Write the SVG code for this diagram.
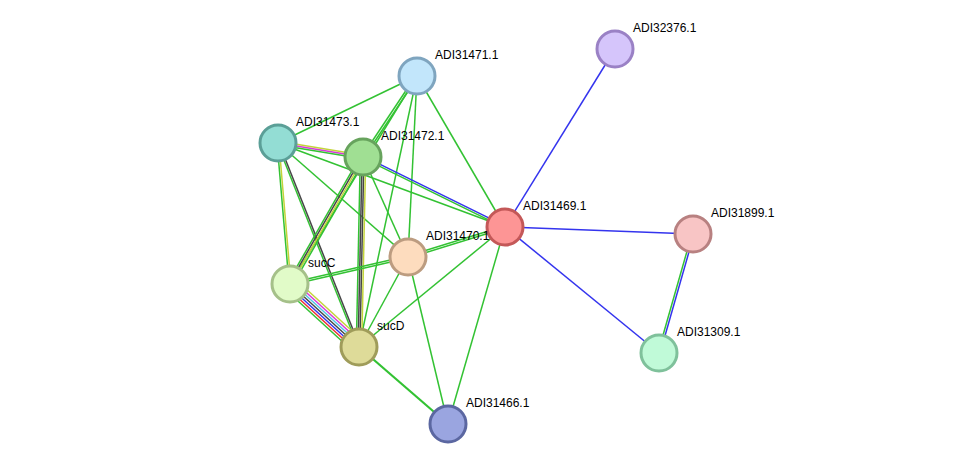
<svg xmlns="http://www.w3.org/2000/svg" width="975" height="470" viewBox="0 0 975 470">
<style>
line{stroke-width:1.5;fill:none}
.g{stroke:#33c233}.b{stroke:#3434ee}.y{stroke:#c3d43a}.m{stroke:#d63ad6}.c{stroke:#4fc6e6}.k{stroke:#474747}.r{stroke:#ee3030}
circle{stroke-width:3}
text{font-family:"Liberation Sans",Arial,sans-serif;font-size:12px;fill:#000}
</style>
<rect width="975" height="470" fill="#fff"/>
<g id="connectors">
<line class="b" x1="615" y1="49" x2="505" y2="227"/>
<line class="b" x1="505" y1="227" x2="693" y2="234"/>
<line class="b" x1="505" y1="227" x2="659" y2="353"/>
<line class="g" x1="692" y1="233.7" x2="658" y2="352.7"/>
<line class="b" x1="694" y1="234.3" x2="660" y2="353.3"/>
<line class="g" x1="417" y1="76" x2="278" y2="143"/>
<line class="g" x1="416" y1="75.5" x2="362" y2="156.5"/>
<line class="g" x1="418" y1="76.5" x2="364" y2="157.5"/>
<line class="g" x1="417" y1="76" x2="505" y2="227"/>
<line class="g" x1="417" y1="76" x2="408" y2="257"/>
<line class="g" x1="417" y1="76" x2="290" y2="284"/>
<line class="g" x1="417" y1="76" x2="359" y2="347"/>
<line class="y" x1="278.3" y1="141.2" x2="363.3" y2="155.2"/>
<line class="m" x1="278" y1="143" x2="363" y2="157"/>
<line class="g" x1="277.7" y1="144.8" x2="362.7" y2="158.8"/>
<line class="g" x1="278" y1="143" x2="505" y2="227"/>
<line class="g" x1="278" y1="143" x2="408" y2="257"/>
<line class="g" x1="277.1" y1="143.1" x2="289.1" y2="284.1"/>
<line class="y" x1="278.9" y1="142.9" x2="290.9" y2="283.9"/>
<line class="g" x1="277.2" y1="143.3" x2="358.2" y2="347.3"/>
<line class="k" x1="278.8" y1="142.7" x2="359.8" y2="346.7"/>
<line class="b" x1="363.4" y1="156.2" x2="505.4" y2="226.2"/>
<line class="g" x1="362.6" y1="157.8" x2="504.6" y2="227.8"/>
<line class="g" x1="363" y1="157" x2="408" y2="257"/>
<line class="g" x1="360.7" y1="155.7" x2="287.7" y2="282.7"/>
<line class="k" x1="362.2" y1="156.6" x2="289.2" y2="283.6"/>
<line class="y" x1="363.8" y1="157.5" x2="290.8" y2="284.5"/>
<line class="g" x1="365.3" y1="158.4" x2="292.3" y2="285.4"/>
<line class="g" x1="360.3" y1="157" x2="356.3" y2="347"/>
<line class="k" x1="362.1" y1="157" x2="358.1" y2="347"/>
<line class="k" x1="363.9" y1="157" x2="359.9" y2="347"/>
<line class="y" x1="365.7" y1="157" x2="361.7" y2="347"/>
<line class="g" x1="408.3" y1="258" x2="505.3" y2="228"/>
<line class="g" x1="407.7" y1="256" x2="504.7" y2="226"/>
<line class="g" x1="407.8" y1="256" x2="289.8" y2="283"/>
<line class="g" x1="408.2" y1="258" x2="290.2" y2="285"/>
<line class="g" x1="408" y1="257" x2="359" y2="347"/>
<line class="g" x1="408" y1="257" x2="448" y2="424"/>
<line class="g" x1="505" y1="227" x2="359" y2="347"/>
<line class="g" x1="505" y1="227" x2="448" y2="424"/>
<line class="y" x1="294.9" y1="278.7" x2="363.9" y2="341.7"/>
<line class="m" x1="293.2" y1="280.5" x2="362.2" y2="343.5"/>
<line class="c" x1="291.6" y1="282.2" x2="360.6" y2="345.2"/>
<line class="k" x1="290" y1="284" x2="359" y2="347"/>
<line class="b" x1="288.4" y1="285.8" x2="357.4" y2="348.8"/>
<line class="r" x1="286.8" y1="287.5" x2="355.8" y2="350.5"/>
<line class="g" x1="285.1" y1="289.3" x2="354.1" y2="352.3"/>
<line class="g" x1="359" y1="347" x2="448" y2="424" style="stroke-width:2.2"/>
</g>
<g id="ADI31471.1"><circle cx="417" cy="76" r="18" fill="#c2e6fb" stroke="#7fa5bf"/><text x="435" y="59">ADI31471.1</text></g>
<g id="ADI32376.1"><circle cx="615" cy="49" r="18" fill="#d5c5fb" stroke="#9a81c5"/><text x="633" y="32">ADI32376.1</text></g>
<g id="ADI31473.1"><circle cx="278" cy="143" r="18" fill="#93ddd4" stroke="#5b9f97"/><text x="296" y="126">ADI31473.1</text></g>
<g id="ADI31472.1"><circle cx="363" cy="157" r="18" fill="#a0df93" stroke="#67a35d"/><text x="381" y="140">ADI31472.1</text></g>
<g id="ADI31469.1"><circle cx="505" cy="227" r="18" fill="#fd9595" stroke="#c45858"/><text x="523" y="210">ADI31469.1</text></g>
<g id="ADI31899.1"><circle cx="693" cy="234" r="18" fill="#f8c5c5" stroke="#b88181"/><text x="711" y="217">ADI31899.1</text></g>
<g id="ADI31470.1"><circle cx="408" cy="257" r="18" fill="#fddcbe" stroke="#bc9c80"/><text x="426" y="240">ADI31470.1</text></g>
<g id="sucC"><circle cx="290" cy="284" r="18" fill="#e1fbc8" stroke="#a5c089"/><text x="308" y="267">sucC</text></g>
<g id="sucD"><circle cx="359" cy="347" r="18" fill="#dedb99" stroke="#9f9c5a"/><text x="377" y="330">sucD</text></g>
<g id="ADI31309.1"><circle cx="659" cy="353" r="18" fill="#c0fad8" stroke="#7fc19b"/><text x="677" y="336">ADI31309.1</text></g>
<g id="ADI31466.1"><circle cx="448" cy="424" r="18" fill="#9aa5e0" stroke="#5b67a1"/><text x="466" y="407">ADI31466.1</text></g>
</svg>
